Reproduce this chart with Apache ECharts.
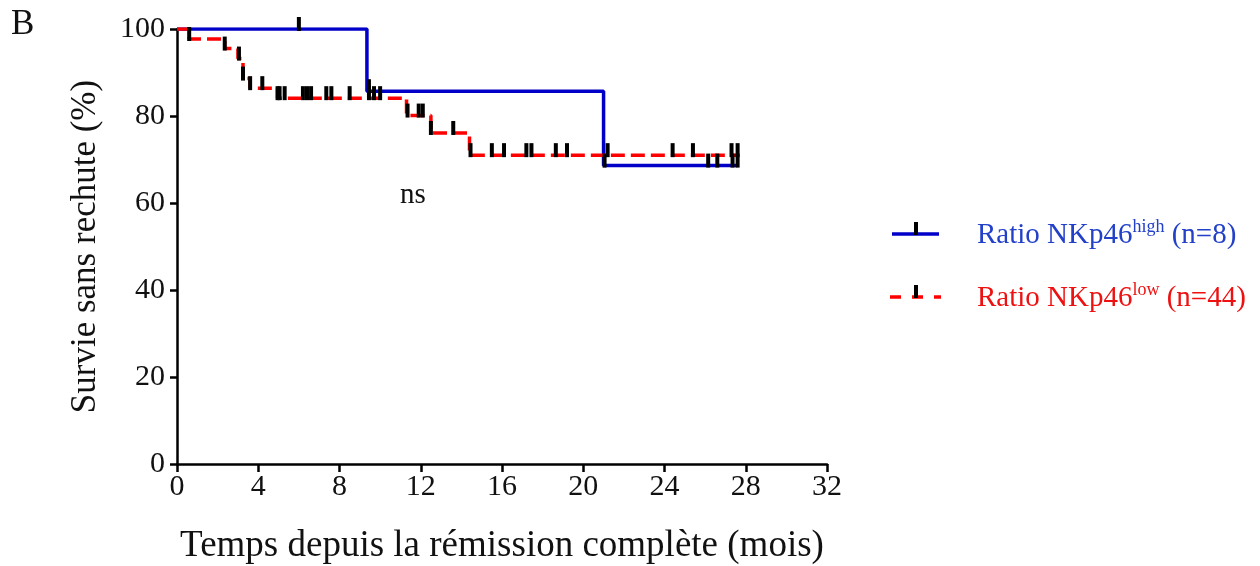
<!DOCTYPE html>
<html>
<head>
<meta charset="utf-8">
<script src="https://cdn.jsdelivr.net/npm/echarts@6/dist/echarts.min.js"></script>
<style>
  html, body { margin: 0; padding: 0; background: #fff; }
  #chart { width: 1260px; height: 566px; }
</style>
</head>
<body>
<div id="chart"></div>
<script>
// Kaplan-Meier steps: [time (months), survival (%)]
var highCurve = [[0, 100], [9.35, 85.7], [21.0, 68.6], [27.6, 68.6]];
var lowCurve = [
  [0, 100], [0.6, 97.7], [2.35, 95.5], [3.0, 93.2], [3.25, 88.6], [3.6, 86.4],
  [4.95, 84.1], [11.3, 80.1], [12.5, 76.1], [14.4, 71.0], [27.6, 71.0]
];
// censored patients (black ticks)
var highCensored = [[6.0, 100], [9.45, 85.7], [21.05, 68.6], [26.15, 68.6], [26.6, 68.6], [27.35, 68.6], [27.6, 68.6]];
var lowCensored = [
  [0.6, 97.7], [2.35, 95.5], [3.05, 93.2], [3.25, 88.6], [3.6, 86.4], [4.2, 86.4],
  [4.95, 84.1], [5.05, 84.1], [5.3, 84.1], [6.2, 84.1], [6.4, 84.1], [6.6, 84.1],
  [7.35, 84.1], [7.6, 84.1], [8.5, 84.1], [9.45, 84.1], [9.7, 84.1], [10.0, 84.1],
  [11.35, 80.1], [11.9, 80.1], [12.1, 80.1], [12.5, 76.1], [13.6, 76.1], [14.45, 71.0],
  [15.5, 71.0], [16.1, 71.0], [17.2, 71.0], [17.45, 71.0], [18.65, 71.0], [19.2, 71.0],
  [21.2, 71.0], [24.4, 71.0], [25.4, 71.0], [27.3, 71.0], [27.6, 71.0]
];
var xTicks = [0, 32, 4];   // min, max, step
var yTicks = [0, 100, 20];

var serif = 'Liberation Serif, Times New Roman, serif';
var blue = '#0000c8';
var red = '#ff0000';

var chart = echarts.init(document.getElementById('chart'));

var censorMark = {
  type: 'scatter',
  symbol: 'rect',
  symbolSize: [4, 14],
  symbolOffset: [0, -5],
  itemStyle: { color: '#000', opacity: 1 },
  silent: true,
  z: 5
};

chart.setOption({
  animation: false,
  grid: { left: 177, right: 433, top: 29, bottom: 102, outerBoundsMode: 'none', containLabel: false },
  xAxis: {
    type: 'value',
    min: xTicks[0], max: xTicks[1], interval: xTicks[2],
    name: 'Temps depuis la rémission complète (mois)',
    nameLocation: 'middle',
    nameGap: 64,
    nameTextStyle: { fontFamily: serif, fontSize: 37, color: '#111' },
    axisLine: { lineStyle: { color: '#000', width: 2.5 } },
    axisTick: { length: 8, lineStyle: { color: '#000', width: 2.5 } },
    axisLabel: { margin: 8, fontFamily: serif, fontSize: 30, color: '#111' },
    splitLine: { show: false }
  },
  yAxis: {
    type: 'value',
    min: yTicks[0], max: yTicks[1], interval: yTicks[2],
    name: 'Survie sans rechute (%)',
    nameLocation: 'middle',
    nameGap: 74,
    nameTextStyle: { fontFamily: serif, fontSize: 35, color: '#111' },
    axisLine: { show: true, lineStyle: { color: '#000', width: 2.5 } },
    axisTick: { show: true, length: 7, lineStyle: { color: '#000', width: 2.5 } },
    axisLabel: { margin: 12, fontFamily: serif, fontSize: 30, color: '#111' },
    splitLine: { show: false }
  },
  series: [
    {
      name: 'high',
      type: 'line',
      step: 'end',
      data: highCurve,
      showSymbol: false,
      lineStyle: { color: blue, width: 3.5 },
      z: 2
    },
    {
      name: 'low',
      type: 'line',
      step: 'end',
      data: lowCurve,
      showSymbol: false,
      lineStyle: { color: red, width: 3.5, type: [14, 6] },
      z: 3
    },
    Object.assign({ data: highCensored }, censorMark),
    Object.assign({ data: lowCensored }, censorMark)
  ],
  graphic: [
    { type: 'text', left: 11, top: 7, style: { text: 'B', font: '35px ' + serif, fill: '#111' } },
    { type: 'text', left: 400, top: 181, style: { text: 'ns', font: '29px ' + serif, fill: '#111' } },
    // legend
    { type: 'line', shape: { x1: 892, y1: 234, x2: 939, y2: 234 }, style: { stroke: blue, lineWidth: 3.5 } },
    { type: 'rect', shape: { x: 914, y: 222, width: 4, height: 13 }, style: { fill: '#000' } },
    {
      type: 'text', left: 977, top: 218,
      style: {
        text: '{a|Ratio NKp46}{b|high}{a| (n=8)}',
        fill: '#2340c8',
        rich: {
          a: { fontFamily: serif, fontSize: 29, fill: '#2340c8', lineHeight: 34 },
          b: { fontFamily: serif, fontSize: 18, fill: '#2340c8', verticalAlign: 'top', lineHeight: 34, padding: [0, 0, 12, 0] }
        }
      }
    },
    { type: 'line', shape: { x1: 890, y1: 297, x2: 941, y2: 297 }, style: { stroke: red, lineWidth: 3.5, lineDash: [11, 11] } },
    { type: 'rect', shape: { x: 914, y: 285, width: 4, height: 13 }, style: { fill: '#000' } },
    {
      type: 'text', left: 977, top: 281,
      style: {
        text: '{a|Ratio NKp46}{b|low}{a| (n=44)}',
        fill: '#ee1111',
        rich: {
          a: { fontFamily: serif, fontSize: 29, fill: '#ee1111', lineHeight: 34 },
          b: { fontFamily: serif, fontSize: 18, fill: '#ee1111', verticalAlign: 'top', lineHeight: 34, padding: [0, 0, 12, 0] }
        }
      }
    }
  ]
});
</script>
</body>
</html>
